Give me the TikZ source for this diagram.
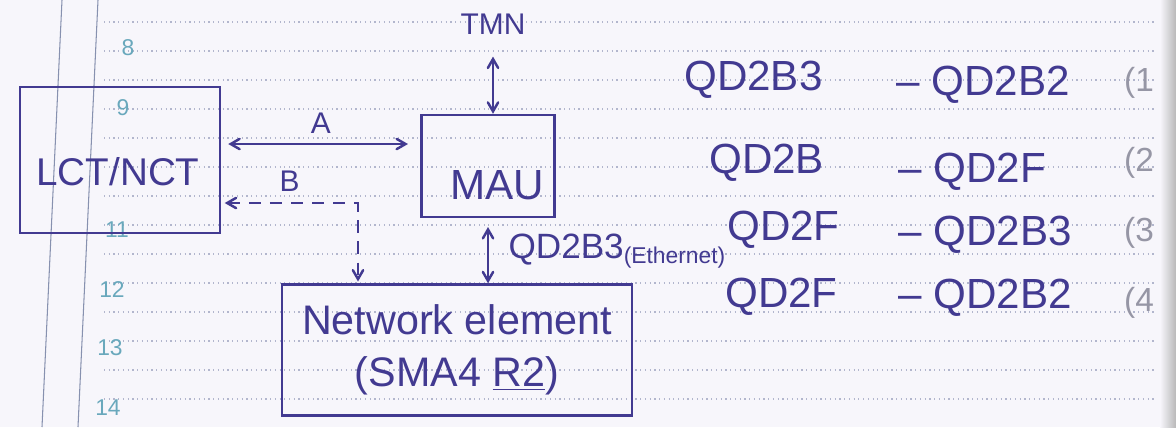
\documentclass[tikz,border=0pt]{standalone}
\usepackage{fontspec}
\setmainfont{Liberation Sans}
\usepackage{tikz}
\usetikzlibrary{arrows}
\usetikzlibrary{positioning}

\definecolor{ink}{RGB}{66,58,145}
\definecolor{paper}{RGB}{247,246,251}
\definecolor{rule}{RGB}{178,182,205}
\definecolor{margin}{RGB}{135,145,175}
\definecolor{rownum}{RGB}{105,168,188}
\definecolor{pencil}{RGB}{150,150,165}

\newcommand{\hand}[1]{\fontsize{#1}{#1}\selectfont}

\begin{document}
\begin{tikzpicture}[x=0.02cm,y=-0.02cm,>=angle 60,line width=1.4pt,
	box node/.style={draw=ink,rectangle,inner sep=0pt},
	label node/.style={inner sep=0pt,text=ink},
	list node/.style={inner sep=0pt,text=ink,anchor=west,font={\hand{24}}},
	pencil node/.style={inner sep=0pt,text=pencil,font={\hand{19}}},
	row node/.style={inner sep=0pt,text=rownum,font={\hand{13}}}]
	
	% the page
	\fill[paper] (0,0) rectangle (1176,427);
	\useasboundingbox (0,0) rectangle (1176,427);
	\shade[left color=paper,right color=black!28] (1160,0) rectangle (1176,427);
	\foreach \y in {22,51,...,410}
		\draw[rule,dotted,line width=0.7pt] (104,\y) -- (1154,\y);
	\draw[margin,line width=0.6pt] (62,0) -- (42,427);
	\draw[margin,line width=0.6pt] (98,0) -- (78,427);
	
	\node[row node] (n8) at (128,48) {8};
	\node[row node] (n9) at (123,108) {9};
	\node[row node] (n11) at (117,230) {11};
	\node[row node] (n12) at (112,290) {12};
	\node[row node] (n13) at (110,348) {13};
	\node[row node] (n14) at (108,408) {14};
	
	% boxes
	\node[box node,minimum width=4cm,minimum height=2.92cm] (lct) at (120,160) {};
	\node[label node,font={\hand{22}}] (lct text) at (118,172) {LCT/NCT};
	\node[box node,minimum width=2.66cm,minimum height=2.04cm] (mau) at (488,166) {};
	\node[label node,font={\hand{24}}] (mau text) at (497,185) {MAU};
	\node[label node,font={\hand{17}}] (tmn) at (493,24) {TMN};
	\node[box node,minimum width=7cm,minimum height=2.62cm,align=center,
		text=ink,font={\hand{23.5}}] (ne) at (457,350)
		{Network element\\[6pt](SMA4 \underline{R2})};
	
	\coordinate (a level) at (0,144);
	\coordinate (b corner) at (358,203);
	
	% links
	\draw[ink,<->,shorten <=4pt,shorten >=7pt] (lct.east |- a level) --
		node[label node,above=5pt,font={\hand{17}}] (a) {A} (mau.west |- a level);
	\draw[ink,<->,dash pattern=on 7pt off 5pt,shorten <=2pt,shorten >=1pt]
		(lct.east |- b corner) -- node[label node,above=6pt,font={\hand{17}}] (b) {B}
		(b corner) -- (b corner |- ne.north);
	\draw[ink,<->,shorten <=12pt] (tmn.south) -- (tmn.south |- mau.north);
	\draw[ink,<->,shorten <=5pt] (mau.south) --
		node[label node,right=11pt] (qd) {\hand{20}QD2B3\raisebox{-3pt}{\hand{13}(Ethernet)}}
		(mau.south |- ne.north);
	
	% list
	\node[list node] (l1) at (683,80) {QD2B3};
	\node[list node] (r1) at (895,85) {-- QD2B2};
	\node[pencil node] (p1) at (1139,83) {(1};
	\node[list node] (l2) at (708,163) {QD2B};
	\node[list node] (r2) at (897,172) {-- QD2F};
	\node[pencil node] (p2) at (1139,163) {(2};
	\node[list node] (l3) at (726,230) {QD2F};
	\node[list node] (r3) at (897,235) {-- QD2B3};
	\node[pencil node] (p3) at (1139,233) {(3};
	\node[list node] (l4) at (724,297) {QD2F};
	\node[list node] (r4) at (897,298) {-- QD2B2};
	\node[pencil node] (p4) at (1139,303) {(4};
\end{tikzpicture}
\end{document}
